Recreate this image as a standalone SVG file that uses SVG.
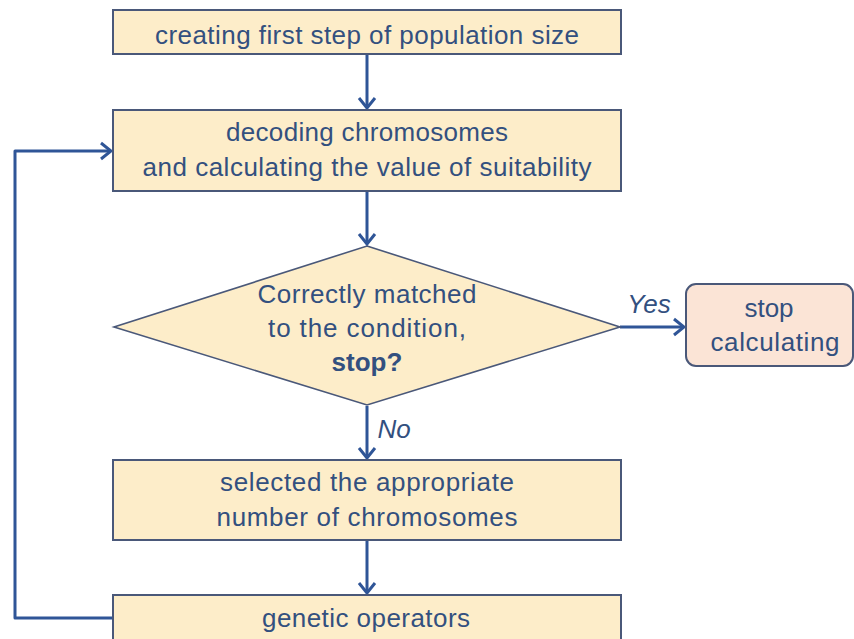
<svg xmlns="http://www.w3.org/2000/svg" width="854" height="639" viewBox="0 0 854 639">
<defs>
<style>
.box{fill:#fdedc9;stroke:#4a5879;stroke-width:2}
.dia{fill:#fdedc9;stroke:#4a5879;stroke-width:1.6}
.stop{fill:#fbe4d6;stroke:#4a5879;stroke-width:2}
.t{font-family:"Liberation Sans",Arial,sans-serif;font-size:26px;fill:#33507f;text-anchor:middle}
.b{font-weight:bold}
.i{font-style:italic}
.c{fill:none;stroke:#2f5597;stroke-width:3;stroke-linejoin:round}
</style>
<marker id="ah" viewBox="-12 -10 14 20" markerWidth="14" markerHeight="20" refX="0" refY="0" orient="auto" markerUnits="userSpaceOnUse">
<path d="M-10,-8 L0,0 L-10,8" fill="none" stroke="#2f5597" stroke-width="3" stroke-linejoin="miter"/>
</marker>
</defs>
<rect width="854" height="639" fill="#ffffff"/>
<g id="connectors">
<path class="c" d="M367,55 L367,108" marker-end="url(#ah)"/>
<path class="c" d="M367,192 L367,244" marker-end="url(#ah)"/>
<path class="c" d="M367,406 L367,458" marker-end="url(#ah)"/>
<path class="c" d="M367,541 L367,593" marker-end="url(#ah)"/>
<path class="c" d="M620,327 L684,327" marker-end="url(#ah)"/>
<path class="c" d="M112,618 L15,618 L15,151 L111,151" marker-end="url(#ah)"/>
<text class="t i" x="649" y="313">Yes</text>
<text class="t i" x="394" y="438">No</text>
</g>
<g id="n1">
<rect class="box" x="113" y="10" width="508" height="44"/>
<text class="t" x="367" y="44" textLength="424">creating first step of population size</text>
</g>
<g id="n2">
<rect class="box" x="113" y="110" width="508" height="81"/>
<text class="t" x="367" y="141" textLength="282">decoding chromosomes</text>
<text class="t" x="367" y="176" textLength="449">and calculating the value of suitability</text>
</g>
<g id="n3">
<polygon class="dia" points="367,246 620,327 367,405 114,327"/>
<text class="t" x="367" y="303" textLength="219">Correctly matched</text>
<text class="t" x="367" y="337" textLength="198">to the condition,</text>
<text class="t b" x="367" y="371">stop?</text>
</g>
<g id="n4">
<rect class="stop" x="686" y="284" width="167" height="82" rx="10" ry="10"/>
<text class="t" x="769" y="317">stop</text>
<text class="t" x="775" y="351" textLength="129">calculating</text>
</g>
<g id="n5">
<rect class="box" x="113" y="460" width="508" height="80"/>
<text class="t" x="367" y="491" textLength="294">selected the appropriate</text>
<text class="t" x="367" y="526" textLength="301">number of chromosomes</text>
</g>
<g id="n6">
<rect class="box" x="113" y="595" width="508" height="60"/>
<text class="t" x="366" y="627" textLength="208">genetic operators</text>
</g>
</svg>
